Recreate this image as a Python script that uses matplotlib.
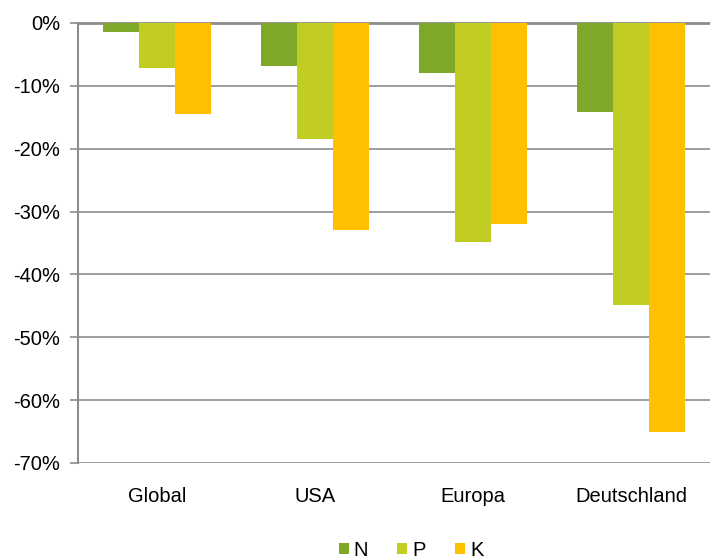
import numpy as np
import matplotlib.pyplot as plt
from matplotlib.ticker import FuncFormatter

plt.rcParams['font.family'] = ['Liberation Sans', 'DejaVu Sans']

# Veränderung in Prozent
regions = ['Global', 'USA', 'Europa', 'Deutschland']
n_vals = [-1.5, -6.9, -7.9, -14.2]
p_vals = [-7.2, -18.4, -34.9, -44.9]
k_vals = [-14.4, -32.9, -32.0, -65.0]

series = [('N', n_vals, '#80A828'), ('P', p_vals, '#C2CD23'), ('K', k_vals, '#FFC000')]

fig = plt.figure(figsize=(7.1, 5.59), dpi=100)
ax = fig.add_axes([78 / 710, 1 - 463 / 559, 632 / 710, 440 / 559])

x = np.arange(len(regions))
w = 0.227
for i, (name, vals, col) in enumerate(series):
    ax.bar(x + (i - 1) * w, vals, w, color=col, label=name, zorder=3)

ax.set_xlim(-0.5, len(regions) - 0.5)
ax.set_ylim(-70, 0)
ax.set_yticks(np.arange(-70, 1, 10))
ax.yaxis.set_major_formatter(FuncFormatter(lambda v, _: f'{v:.0f}%'))
ax.yaxis.grid(True, color='#8c8c8c', linewidth=1.2, zorder=0)
ax.set_xticks(x)
ax.set_xticklabels(regions)

for s in ['right', 'bottom']:
    ax.spines[s].set_visible(False)
ax.spines['left'].set_color('#8c8c8c')
ax.spines['left'].set_linewidth(1.5)
ax.spines['top'].set_color('#8c8c8c')
ax.spines['top'].set_linewidth(2)
ax.tick_params(axis='y', length=6, color='#8c8c8c', width=1.2, labelsize=14.5, pad=7)
ax.tick_params(axis='x', length=0, labelsize=14.5, pad=17)

fig.legend(loc='center', bbox_to_anchor=(411 / 710, 1 - 550 / 559), ncol=3, frameon=False,
           fontsize=14.5, handlelength=0.5, handleheight=0.5, handletextpad=0.25,
           columnspacing=1.45, borderpad=0)

fig.savefig('out.png', dpi=100)
